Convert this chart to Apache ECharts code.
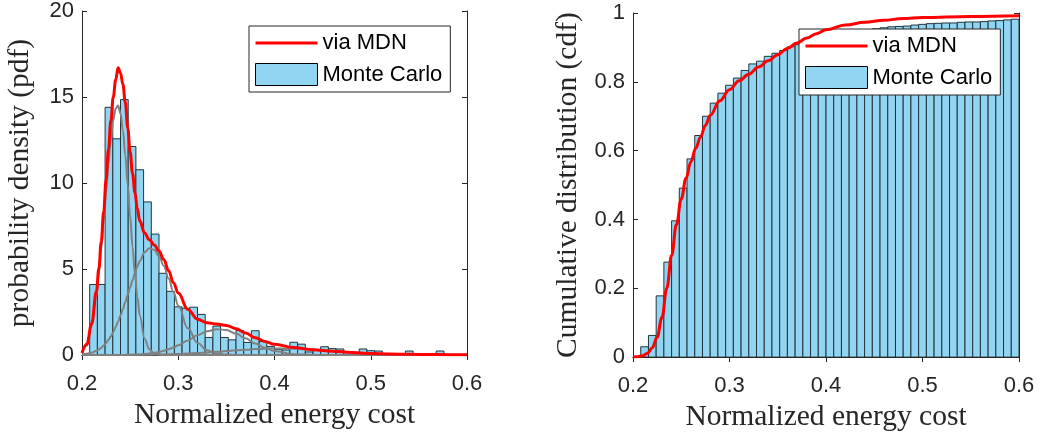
<!DOCTYPE html>
<html><head><meta charset="utf-8">
<script src="https://cdn.jsdelivr.net/npm/echarts@6/dist/echarts.min.js"></script>
<style>html,body{margin:0;padding:0;background:#fff}#c{width:1041px;height:437px}</style>
</head><body><div id="c"></div>
<script>
// ---- data ----
const binStart = 0.208;
const binWidth = 0.008;
const pdfCounts = [4.1,4.1,14.4,12.57,14.85,12.12,10.77,8.9,7.03,4.75,
  3.7,2.8,2.72,2.78,2.36,1.02,1.68,1.02,0.88,1.42,
  0.73,1.41,0.78,0.5,0.33,0.29,0.74,0.63,0.18,0.3,
  0.48,0.37,0.35,0.18,0.15,0.35,0.25,0.23,0.08,0.08,
  0.06,0.23,0.05,0.04,0.04,0.23,0.03,0.03,0.02];
const cdfCounts = [0.03,0.063,0.178,0.276,0.396,0.491,0.576,0.644,0.70,0.738,
  0.767,0.79,0.811,0.833,0.852,0.86,0.874,0.883,0.891,0.902,
  0.908,0.919,0.925,0.929,0.932,0.934,0.94,0.945,0.947,0.95,
  0.954,0.957,0.96,0.961,0.962,0.965,0.967,0.969,0.97,0.971,
  0.971,0.973,0.974,0.974,0.975,0.977,0.978,0.98,0.982];
const pdfGrid = [0.200,0.205,0.210,0.215,0.2175,0.220,0.2225,0.225,0.2275,0.230,
  0.2325,0.235,0.2375,0.240,0.2425,0.245,0.2475,0.250,0.2525,0.255,
  0.2575,0.260,0.265,0.270,0.275,0.280,0.285,0.290,0.295,0.300,
  0.31,0.32,0.33,0.34,0.35,0.36,0.37,0.38,0.39,0.40,
  0.42,0.44,0.46,0.48,0.50,0.52,0.54,0.56,0.58,0.60];
const mdnPdf = [0.12,0.62,1.81,3.7,5.03,6.59,8.33,10.17,11.98,13.63,
  15.0,16.0,16.7,16.4,15.73,14.69,13.2,11.8,10.55,9.45,
  8.5,7.8,7.1,6.7,6.4,6.05,5.55,4.9,4.2,3.6,
  2.65,2.08,1.88,1.8,1.72,1.53,1.28,1.01,0.79,0.63,
  0.43,0.31,0.22,0.15,0.09,0.06,0.04,0.03,0.02,0.015];
const comp1 = [0.15,0.55,1.68,3.46,4.71,6.17,7.78,9.47,11.1,12.54,
  13.66,14.33,14.5,14.05,13.05,11.61,9.89,8.06,6.3,4.71,
  3.37,2.31,0.95,0.33,0.1,0.02,0.005,0,0,0,
  0,0,0,0,0,0,0,0,0,0,
  0,0,0,0,0,0,0,0,0,0];
const comp2 = [0.03,0.07,0.13,0.24,0.32,0.42,0.55,0.70,0.88,1.09,
  1.34,1.63,1.95,2.30,2.68,3.08,3.51,3.93,4.35,4.76,
  5.14,5.47,5.97,6.2,6.12,5.75,5.18,4.45,3.66,2.88,
  1.55,0.7,0.27,0.09,0.025,0.005,0,0,0,0,
  0,0,0,0,0,0,0,0,0,0];
const comp3 = [0,0,0,0,0,0,0,0,0,0,
  0,0,0,0,0,0.008,0.01,0.014,0.018,0.022,
  0.028,0.036,0.055,0.084,0.125,0.18,0.25,0.33,0.43,0.56,
  0.85,1.15,1.38,1.5,1.45,1.25,0.97,0.67,0.42,0.23,
  0.05,0.007,0,0,0,0,0,0,0,0];
const comp4 = [0.002,0.002,0.002,0.002,0.002,0.002,0.002,0.002,0.002,0.002,
  0.002,0.002,0.002,0.002,0.002,0.002,0.002,0.007,0.008,0.009,
  0.01,0.011,0.015,0.019,0.024,0.029,0.036,0.043,0.052,0.062,
  0.086,0.115,0.15,0.19,0.23,0.27,0.31,0.343,0.366,0.38,
  0.366,0.31,0.23,0.15,0.086,0.043,0.019,0.007,0.002,0];
const cdfGrid = [0.200,0.205,0.210,0.215,0.220,0.225,0.230,0.235,0.240,0.245,
  0.250,0.255,0.260,0.265,0.270,0.275,0.280,0.290,0.300,0.310,
  0.320,0.330,0.340,0.350,0.360,0.370,0.380,0.390,0.400,0.420,
  0.440,0.460,0.480,0.500,0.550,0.600];
const mdnCdf = [0.0,0.001,0.004,0.011,0.027,0.058,0.115,0.2,0.295,0.385,
  0.46,0.52,0.568,0.607,0.64,0.673,0.703,0.745,0.777,0.803,
  0.822,0.843,0.861,0.879,0.897,0.913,0.927,0.94,0.951,0.965,
  0.973,0.979,0.984,0.987,0.99,0.992];
const xTickLabels = ['0.2','0.3','0.4','0.5','0.6'];
const pdfTickLabels = ['0','5','10','15','20'];
const cdfTickLabels = ['0','0.2','0.4','0.6','0.8','1'];
const legendNames = ['via MDN','Monte Carlo'];
const xTitle = 'Normalized energy cost';
const pdfTitle = 'probability density (pdf)';
const cdfTitle = 'Cumulative distribution (cdf)';

// ---- styles ----
const AX = '#262626';
const BAR = '#92d5f2';
const BAR_EDGE = '#20343d';
const RED = '#ff0000';
const GRAY = '#808080';
const SANS = 'Liberation Sans, Arial, sans-serif';
const SERIF = 'Liberation Serif, Times New Roman, serif';

const pairs = (xs, ys) => xs.map((x, i) => [x, ys[i]]);
const bins = counts => counts.map((v, i) => [binStart + i * binWidth, binStart + (i + 1) * binWidth, v]);

function histItem(params, api) {
  const p0 = api.coord([api.value(0), api.value(2)]);
  const p1 = api.coord([api.value(1), 0]);
  return {type: 'rect', shape: {x: p0[0], y: p0[1], width: p1[0] - p0[0], height: p1[1] - p0[1]},
    style: {fill: BAR, stroke: BAR_EDGE, lineWidth: 1}};
}

function xAxes(grid) {
  const base = {type: 'value', gridIndex: grid, min: 0.2, max: 0.6, interval: 0.1,
    axisLine: {show: true, lineStyle: {color: AX, width: 1}},
    axisTick: {show: true, inside: true, length: 5, lineStyle: {color: AX}},
    splitLine: {show: false}};
  return [
    Object.assign({}, base, {position: 'bottom',
      axisLabel: {show: true, margin: 18, color: AX, fontFamily: SANS, fontSize: 22,
        formatter: v => xTickLabels[Math.round((v - 0.2) / 0.1)]},
      name: xTitle, nameLocation: 'middle', nameGap: 43,
      nameTextStyle: {fontFamily: SERIF, fontSize: 29.5, color: AX}}),
    Object.assign({}, base, {position: 'top', axisLabel: {show: false}})
  ];
}
function yAxes(grid, max, interval, labels, title, gap) {
  const base = {type: 'value', gridIndex: grid, min: 0, max: max, interval: interval,
    axisLine: {show: true, lineStyle: {color: AX, width: 1}},
    axisTick: {show: true, inside: true, length: 5, lineStyle: {color: AX}},
    splitLine: {show: false}};
  return [
    Object.assign({}, base, {position: 'left',
      axisLabel: {show: true, margin: 8, color: AX, fontFamily: SANS, fontSize: 22,
        formatter: v => labels[Math.round(v / interval)]},
      name: title, nameLocation: 'middle', nameGap: gap,
      nameTextStyle: {fontFamily: SERIF, fontSize: 29.5, color: AX}}),
    Object.assign({}, base, {position: 'right', axisLabel: {show: false}})
  ];
}

function legendAt(left, top) {
  return {left: left, top: top, orient: 'vertical', backgroundColor: '#fff',
    borderColor: AX, borderWidth: 1, borderRadius: 0, padding: [6, 8, 6, 6],
    itemWidth: 62, itemHeight: 22, itemGap: 9, selectedMode: false, symbolKeepAspect: true,
    textStyle: {fontFamily: SANS, fontSize: 22, color: '#000'},
    data: [
      {name: legendNames[0], icon: 'path://M0,0H62V3H0Z', itemStyle: {color: RED, borderWidth: 0}},
      {name: legendNames[1], icon: 'rect', itemStyle: {color: BAR, borderColor: '#000', borderWidth: 1}}
    ]};
}

const grayLine = (data) => ({type: 'line', xAxisIndex: 0, yAxisIndex: 0, data: data,
  showSymbol: false, symbol: 'none', smooth: 0.4, smoothMonotone: 'x', silent: true,
  lineStyle: {color: GRAY, width: 2}, itemStyle: {color: GRAY}, z: 3});

const option = {
  animation: false,
  backgroundColor: '#fff',
  grid: [
    {left: 82, right: 574, top: 10, bottom: 82},
    {left: 633, right: 22, top: 13, bottom: 79}
  ],
  xAxis: [...xAxes(0), ...xAxes(1)],
  yAxis: [...yAxes(0, 20, 5, pdfTickLabels, pdfTitle, 47), ...yAxes(1, 1, 0.2, cdfTickLabels, cdfTitle, 50)],
  legend: [legendAt(249, 26), legendAt(799, 29)],
  series: [
    {name: legendNames[1], type: 'custom', xAxisIndex: 0, yAxisIndex: 0, renderItem: histItem,
      data: bins(pdfCounts), encode: {x: [0, 1], y: 2}, itemStyle: {color: BAR}, clip: true, z: 2},
    grayLine(pairs(pdfGrid, comp1)),
    grayLine(pairs(pdfGrid, comp2)),
    grayLine(pairs(pdfGrid, comp3)),
    grayLine(pairs(pdfGrid, comp4)),
    {name: legendNames[0], type: 'line', xAxisIndex: 0, yAxisIndex: 0, data: pairs(pdfGrid, mdnPdf),
      showSymbol: false, symbol: 'none', smooth: 0.4, smoothMonotone: 'x',
      lineStyle: {color: RED, width: 3}, itemStyle: {color: RED}, z: 4},
    {name: legendNames[1], type: 'custom', xAxisIndex: 2, yAxisIndex: 2, renderItem: histItem,
      data: bins(cdfCounts), encode: {x: [0, 1], y: 2}, itemStyle: {color: BAR}, clip: true, z: 2},
    {name: legendNames[0], type: 'line', xAxisIndex: 2, yAxisIndex: 2, data: pairs(cdfGrid, mdnCdf),
      showSymbol: false, symbol: 'none', smooth: 0.4, smoothMonotone: 'x',
      lineStyle: {color: RED, width: 3}, itemStyle: {color: RED}, z: 4}
  ]
};
const chart = echarts.init(document.getElementById('c'), null, {renderer: 'canvas'});
chart.setOption(option);
</script></body></html>
